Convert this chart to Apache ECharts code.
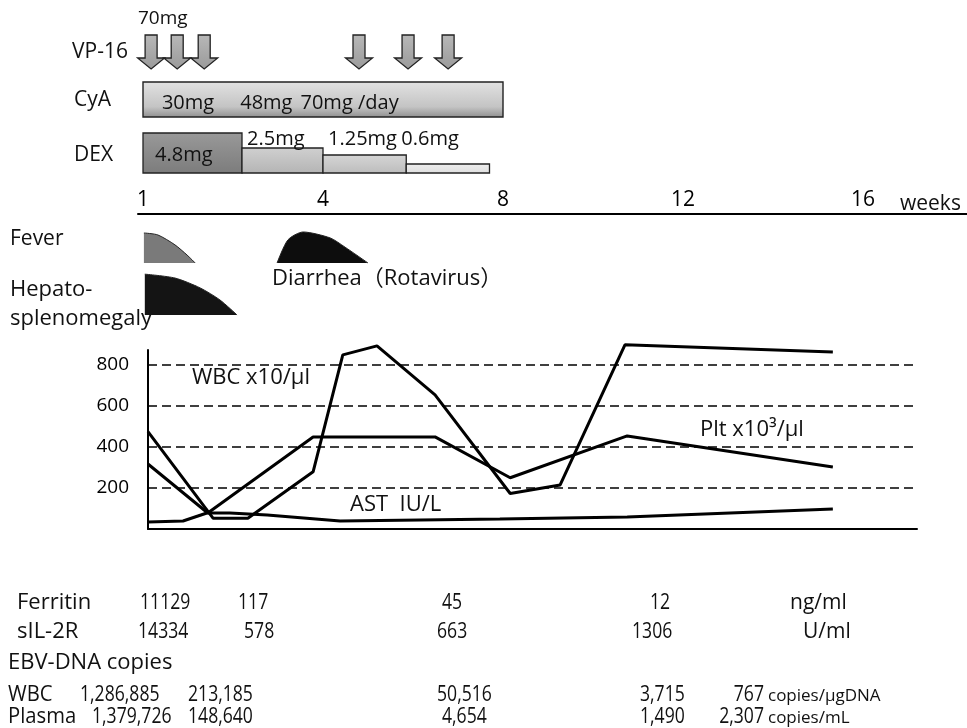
<!DOCTYPE html>
<html>
<head>
<meta charset="utf-8">
<script src="https://cdn.jsdelivr.net/npm/echarts@6/dist/echarts.min.js"></script>
<style>
  html, body { margin: 0; padding: 0; background: #fff; }
  #chart { width: 967px; height: 728px; }
</style>
</head>
<body>
<div id="chart"></div>
<script>
// ---------- timeline data (x in weeks from start of treatment) ----------
const weekTicks = [0, 4, 8, 12, 16];
const weekTickLabels = ['1', '4', '8', '12', '16'];

// VP-16 administrations
const vp16Weeks = [0.18, 0.76, 1.36, 4.8, 5.89, 6.78];
const vp16FirstDose = '70mg';

// CyA course and dose steps
const cyaStart = 0;
const cyaEnd = 8;
const cyaDoseWeeks = [0.42, 2.16, 3.5];
const cyaDoses = ['30mg', '48mg', '70mg /day'];

// DEX taper
const dexStart = [0, 2.2, 4.0, 5.85];
const dexEnd = [2.2, 4.0, 5.85, 7.7];
const dexLevel = [4, 2.5, 1.8, 0.9];
const dexDose = ['4.8mg', '2.5mg', '1.25mg', '0.6mg'];

// symptom intensity profiles [week, relative intensity]
const feverProfile = [[0.02, 0.91], [0.33, 0.85], [0.71, 0.55], [0.98, 0.24], [1.16, 0]];
const diarrheaProfile = [[2.98, 0], [3.22, 0.7], [3.56, 0.94], [4.16, 0.76], [4.49, 0.48], [5.0, 0]];
const hepatoProfile = [[0.04, 0.95], [0.71, 0.86], [1.27, 0.63], [1.71, 0.35], [2.09, 0]];

// laboratory courses
const wbcWeeks = [0.11, 1.56, 2.33, 3.78, 4.44, 5.2, 6.49, 8.16, 9.27, 10.71, 15.33];
const wbcValues = [475, 52, 52, 279, 849, 893, 654, 173, 215, 898, 863];
const pltWeeks = [0.11, 1.44, 3.78, 6.49, 8.16, 10.76, 15.33];
const pltValues = [317, 78, 449, 449, 250, 454, 302];
const astWeeks = [0.11, 0.89, 1.42, 1.93, 2.76, 4.38, 7.93, 10.76, 15.33];
const astValues = [34, 39, 78, 78, 68, 39, 49, 59, 98];
const labTicks = [200, 400, 600, 800];

// serum markers and EBV load
const ferritinValues = ['11129', '117', '45', '12'];
const ferritinUnit = 'ng/ml';
const sil2rValues = ['14334', '578', '663', '1306'];
const sil2rUnit = 'U/ml';
const ebvWbcValues = ['1,286,885', '213,185', '50,516', '3,715', '767'];
const ebvWbcUnit = 'copies/µgDNA';
const ebvPlasmaValues = ['1,379,726', '148,640', '4,654', '1,490', '2,307'];
const ebvPlasmaUnit = 'copies/mL';

// ---------- layout ----------
const FONT = '"Open Sans", "Noto Sans CJK JP", sans-serif';
const X0 = 143;   // pixel of week 0
const PXW = 45;   // pixels per week
function span(leftPx, rightPx) {
  return { min: (leftPx - X0) / PXW, max: (rightPx - X0) / PXW };
}

function gridBox(top, height, leftPx, rightPx) {
  return { left: leftPx, top: top, width: rightPx - leftPx, height: height, containLabel: false };
}

const gridPx = [[130, 530], [130, 530], [130, 530], [138, 967], [130, 530], [130, 530], [148, 917]];
const grids = [
  gridBox(35, 34, 130, 530),   // 0 VP-16 arrows
  gridBox(82, 35, 130, 530),   // 1 CyA
  gridBox(133, 40, 130, 530),  // 2 DEX
  gridBox(195, 19, 138, 967),  // 3 week axis
  gridBox(230, 33, 130, 530),  // 4 fever / diarrhea
  gridBox(272, 43, 130, 530),  // 5 hepatosplenomegaly
  gridBox(350, 179, 148, 917)  // 6 laboratory chart
];

const xAxes = gridPx.map((p, i) => {
  const s = span(p[0], p[1]);
  return { type: 'value', gridIndex: i, min: s.min, max: s.max, show: false };
});
// visible week axis
Object.assign(xAxes[3], {
  show: true,
  axisLine: { show: true, lineStyle: { color: '#000', width: 2 } },
  axisTick: { show: false },
  splitLine: { show: false },
  axisLabel: {
    inside: true, margin: 3, color: '#000', fontSize: 21, fontFamily: FONT,
    customValues: weekTicks,
    formatter: v => weekTickLabels[weekTicks.indexOf(v)] || ''
  }
});
// laboratory x axis (baseline only)
Object.assign(xAxes[6], {
  show: true,
  axisLine: { show: true, lineStyle: { color: '#000', width: 2 } },
  axisTick: { show: false },
  axisLabel: { show: false },
  splitLine: { show: false }
});

const yAxes = [
  { type: 'value', gridIndex: 0, min: 0, max: 1, show: false },
  { type: 'value', gridIndex: 1, min: 0, max: 1, show: false },
  { type: 'value', gridIndex: 2, min: 0, max: 4, show: false },
  { type: 'value', gridIndex: 3, min: 0, max: 1, show: false },
  { type: 'value', gridIndex: 4, min: 0, max: 1, show: false },
  { type: 'value', gridIndex: 5, min: 0, max: 1, show: false },
  {
    type: 'value', gridIndex: 6, min: 0, max: 873,
    axisLine: { show: true, lineStyle: { color: '#000', width: 2 } },
    axisTick: { show: false },
    splitLine: { show: false },
    axisLabel: {
      customValues: labTicks, margin: 19, color: '#000', fontSize: 19, fontFamily: FONT
    }
  }
];

const barGrad = (c0, c1) => new echarts.graphic.LinearGradient(0, 0, 0, 1, [
  { offset: 0, color: c0 }, { offset: 1, color: c1 }
]);
const dexFill = [barGrad('#999', '#7c7c7c'), barGrad('#d0d0d0', '#b4b4b4'),
                 barGrad('#d6d6d6', '#bcbcbc'), barGrad('#efefef', '#dedede')];
const textStyle = (size) => ({ fill: '#111', fontSize: size, fontFamily: FONT });

const series = [];

// VP-16 arrows
series.push({
  type: 'custom', xAxisIndex: 0, yAxisIndex: 0, silent: true,
  data: vp16Weeks.map(w => [w]),
  renderItem: (params, api) => {
    const top = api.coord([api.value(0), 1]);
    const tip = api.coord([api.value(0), 0]);
    const x = tip[0], y0 = top[1], y1 = tip[1];
    const sw = 6, hw = 13.5, hh = 11;
    return {
      type: 'polygon',
      shape: { points: [[x - sw, y0], [x + sw, y0], [x + sw, y1 - hh], [x + hw, y1 - hh],
                        [x, y1], [x - hw, y1 - hh], [x - sw, y1 - hh]] },
      style: { fill: barGrad('#b8b8b8', '#9a9a9a'), stroke: '#222', lineWidth: 1.3 }
    };
  }
});

// CyA bar with dose steps
series.push({
  type: 'custom', xAxisIndex: 1, yAxisIndex: 1, silent: true,
  data: [[cyaStart, cyaEnd]],
  renderItem: (params, api) => {
    const p0 = api.coord([api.value(0), 1]);
    const p1 = api.coord([api.value(1), 0]);
    const children = [{
      type: 'rect',
      shape: { x: p0[0], y: p0[1], width: p1[0] - p0[0], height: p1[1] - p0[1] },
      style: { fill: new echarts.graphic.LinearGradient(0, 0, 0, 1, [
        { offset: 0, color: '#e2e2e2' }, { offset: 0.7, color: '#c4c4c4' }, { offset: 1, color: '#8e8e8e' }
      ]), stroke: '#222', lineWidth: 1.4 }
    }];
    const midY = (p0[1] + p1[1]) / 2 + 4;
    cyaDoses.forEach((d, i) => {
      const c = api.coord([cyaDoseWeeks[i], 0]);
      children.push({
        type: 'text',
        style: Object.assign(textStyle(20), { text: d, x: c[0], y: midY, verticalAlign: 'middle' })
      });
    });
    return { type: 'group', children: children };
  }
});

// DEX taper bars
series.push({
  type: 'custom', xAxisIndex: 2, yAxisIndex: 2, silent: true,
  data: dexStart.map((s, i) => [s, dexEnd[i], dexLevel[i]]),
  renderItem: (params, api) => {
    const i = params.dataIndex;
    const p0 = api.coord([api.value(0), api.value(2)]);
    const p1 = api.coord([api.value(1), 0]);
    const rect = {
      type: 'rect',
      shape: { x: p0[0], y: p0[1], width: p1[0] - p0[0], height: p1[1] - p0[1] },
      style: { fill: dexFill[i], stroke: '#222', lineWidth: 1.3 }
    };
    const top = params.coordSys.y;
    const label = i === 0
      ? { type: 'text', style: Object.assign(textStyle(20), { text: dexDose[i], x: p0[0] + 12, y: (p0[1] + p1[1]) / 2 + 2, verticalAlign: 'middle' }) }
      : { type: 'text', style: Object.assign(textStyle(20), { text: dexDose[i], x: p0[0] + (i === 3 ? -5 : 5), y: top + 6, verticalAlign: 'middle' }) };
    return { type: 'group', children: [rect, label] };
  }
});

// symptom areas
function symptom(profile, grid, fill) {
  return {
    type: 'line', xAxisIndex: grid, yAxisIndex: grid, data: profile, smooth: 0.25,
    symbol: 'none', silent: true, clip: false,
    lineStyle: { color: '#222', width: 1 },
    areaStyle: { color: fill, opacity: 1 }
  };
}
series.push(symptom(feverProfile, 4, '#7a7a7a'));
series.push(symptom(diarrheaProfile, 4, '#0d0d0d'));
series.push(symptom(hepatoProfile, 5, '#141414'));

// laboratory lines
function labLine(name, weeks, values) {
  return {
    name: name, type: 'line', xAxisIndex: 6, yAxisIndex: 6,
    data: weeks.map((w, i) => [w, values[i]]),
    symbol: 'none', clip: false, silent: true,
    lineStyle: { color: '#000', width: 3 }, z: 3
  };
}
const wbcSeries = labLine('WBC', wbcWeeks, wbcValues);
wbcSeries.markLine = {
  silent: true, symbol: ['none', 'none'], label: { show: false },
  lineStyle: { color: '#000', type: [9, 5], width: 1.6 },
  data: labTicks.map(v => ({ yAxis: v }))
};
series.push(wbcSeries);
series.push(labLine('Plt', pltWeeks, pltValues));
series.push(labLine('AST', astWeeks, astValues));

// ---------- text ----------
function txt(text, x, y, size, align, sx) {
  return {
    type: 'text', x: x, y: y, scaleX: sx || 1, silent: true,
    style: { text: text, fill: '#111', fontSize: size || 22, fontFamily: FONT,
             align: align || 'left', verticalAlign: 'middle' }
  };
}
const texts = [
  txt(vp16FirstDose, 138, 19, 19),
  txt('VP-16', 72, 52, 21),
  txt('CyA', 74, 100, 21),
  txt('DEX', 74, 155, 21),
  txt('weeks', 900, 204, 21),
  txt('Fever', 10, 239, 21),
  txt('Hepato-', 10, 290, 22),
  txt('splenomegaly', 10, 319, 22),
  txt('Diarrhea（Rotavirus）', 272, 279, 22),
  txt('WBC x10/µl', 192, 378, 22),
  txt('Plt x10³/µl', 700, 430, 22),
  txt('AST  IU/L', 350, 505, 22)
];

// serum marker rows; figures are set in a condensed width
const NUM = 22, NUM_SX = 0.8;
const ferritinX = [140, 238, 442, 650];
const sil2rX = [138, 244, 437, 632];
const ebvWbcX = [80, 188, 437, 640];
const ebvPlasmaX = [92, 188, 442, 640];
const lastColRight = 764;
const rowY = { ferritin: 603, sil2r: 632, ebv: 663, wbc: 695, plasma: 717 };

texts.push(txt('Ferritin', 17, rowY.ferritin, 22));
ferritinValues.forEach((v, i) => texts.push(txt(v, ferritinX[i], rowY.ferritin, NUM, 'left', NUM_SX)));
texts.push(txt(ferritinUnit, 790, rowY.ferritin, 21));

texts.push(txt('sIL-2R', 17, rowY.sil2r, 22));
sil2rValues.forEach((v, i) => texts.push(txt(v, sil2rX[i], rowY.sil2r, NUM, 'left', NUM_SX)));
texts.push(txt(sil2rUnit, 803, rowY.sil2r, 21));

texts.push(txt('EBV-DNA copies', 8, rowY.ebv, 22));

texts.push(txt('WBC', 8, rowY.wbc, 22, 'left', 0.92));
ebvWbcValues.forEach((v, i) => {
  const last = i === ebvWbcValues.length - 1;
  texts.push(txt(v, last ? lastColRight : ebvWbcX[i], rowY.wbc, NUM, last ? 'right' : 'left', NUM_SX));
});
texts.push(txt(ebvWbcUnit, lastColRight + 4, rowY.wbc + 1, 17));

texts.push(txt('Plasma', 8, rowY.plasma, 22, 'left', 0.92));
ebvPlasmaValues.forEach((v, i) => {
  const last = i === ebvPlasmaValues.length - 1;
  texts.push(txt(v, last ? lastColRight : ebvPlasmaX[i], rowY.plasma, NUM, last ? 'right' : 'left', NUM_SX));
});
texts.push(txt(ebvPlasmaUnit, lastColRight + 4, rowY.plasma + 1, 17));

const chart = echarts.init(document.getElementById('chart'), null, { renderer: 'canvas' });
chart.setOption({
  animation: false,
  backgroundColor: '#fff',
  grid: grids,
  xAxis: xAxes,
  yAxis: yAxes,
  series: series,
  graphic: { elements: texts }
});
</script>
</body>
</html>
